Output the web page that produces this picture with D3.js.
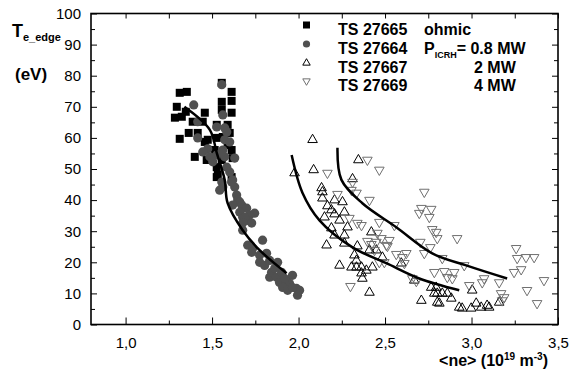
<!DOCTYPE html>
<html>
<head>
<meta charset="utf-8">
<script src="https://cdn.jsdelivr.net/npm/d3@7"></script>
<style>
  body { margin: 0; background: #fff; }
  svg { display: block; font-family: "Liberation Sans", Arial, Helvetica, sans-serif; }
</style>
</head>
<body>
<div id="chart"></div>
<script>
// TS 27665 ohmic (squares)
const ohmicNe = [1.313, 1.354, 1.556, 1.613, 1.556, 1.613, 1.296, 1.285, 1.325, 1.458, 1.556, 1.613,
  1.388, 1.365, 1.313, 1.417, 1.458, 1.527, 1.590, 1.602, 1.527, 1.562, 1.400, 1.469, 1.515, 1.613,
  1.619, 1.527, 1.613, 1.446, 1.475, 1.498, 1.527, 1.533, 1.348, 1.590, 1.556];
const ohmicTe = [74.5, 74.8, 77.7, 74.8, 71.6, 71.9, 70.0, 66.5, 66.8, 68.1, 69.0, 68.1,
  65.2, 61.6, 59.7, 61.6, 58.7, 64.2, 64.2, 61.6, 60.0, 60.3, 53.9, 52.9, 56.1, 56.1,
  53.5, 47.4, 47.4, 65.2, 59.4, 52.9, 50.6, 48.1, 68.4, 57.7, 52.9];

// TS 27664 P_ICRH = 0.8 MW (circles)
const lowNe = [1.556, 1.394, 1.562, 1.417, 1.573, 1.527, 1.417, 1.585, 1.573, 1.602, 1.475, 1.446,
  1.527, 1.562, 1.573, 1.631, 1.585, 1.602, 1.619, 1.631, 1.562, 1.642, 1.487, 1.504, 1.556, 1.613,
  1.671, 1.648, 1.700, 1.677, 1.706, 1.556, 1.544, 1.660, 1.619, 1.746, 1.717, 1.660, 1.688, 1.729,
  1.677, 1.677, 1.792, 1.706, 1.735, 1.729, 1.775, 1.815, 1.775, 1.804, 1.833, 1.879, 1.833, 1.844,
  1.873, 1.902, 1.931, 1.965, 1.948, 1.890, 1.908, 1.988, 2.006, 1.994, 1.862, 1.919, 1.937, 1.965];
const lowTe = [77.1, 70.6, 67.4, 65.2, 63.2, 63.5, 60.0, 61.9, 59.4, 58.7, 56.5, 55.5,
  54.5, 56.1, 53.9, 53.5, 50.6, 49.0, 46.5, 44.2, 44.2, 41.6, 53.9, 52.3, 55.5, 45.8,
  38.4, 40.0, 37.4, 34.5, 33.5, 45.8, 43.2, 39.4, 38.4, 35.8, 35.2, 36.1, 34.5, 32.6,
  32.6, 30.3, 27.1, 25.5, 24.5, 23.2, 22.3, 22.9, 20.0, 19.0, 20.6, 20.0, 15.2, 16.8,
  15.2, 16.8, 14.2, 15.8, 13.2, 13.5, 11.9, 11.6, 11.0, 9.4, 18.1, 14.8, 11.0, 11.9];

// TS 27667 2 MW (up triangles)
const midNe = [2.081, 1.977, 2.087, 2.346, 2.312, 2.133, 2.138, 2.138, 2.208, 2.254, 2.167, 2.190,
  2.265, 2.150, 2.208, 2.283, 2.190, 2.208, 2.265, 2.421, 2.162, 2.265, 2.340, 2.410, 2.450, 2.335,
  2.306, 2.335, 2.364, 2.392, 2.427, 2.237, 2.364, 2.369, 2.410, 2.710, 2.485, 2.594, 2.669, 2.767,
  2.785, 2.802, 2.831, 2.860, 2.802, 2.814, 2.883, 2.929, 2.946, 2.998, 3.027, 3.056, 3.090, 3.102,
  3.004, 3.160, 2.796, 2.237, 2.323];
const midTe = [59.4, 48.7, 49.7, 52.9, 46.8, 43.9, 42.6, 40.6, 40.0, 39.4, 38.1, 36.8,
  36.1, 34.5, 35.5, 31.3, 31.0, 28.7, 28.7, 29.7, 25.5, 26.1, 25.2, 23.9, 23.9, 20.6,
  18.4, 18.4, 18.4, 17.4, 18.4, 19.0, 16.5, 14.8, 10.3, 7.7, 21.6, 19.7, 14.2, 11.9,
  10.0, 10.0, 10.0, 10.0, 7.1, 6.8, 8.4, 5.5, 5.2, 5.2, 6.8, 5.5, 6.1, 5.5,
  11.0, 7.1, 11.9, 33.5, 22.3];

// TS 27669 4 MW (down triangles)
const highNe = [2.398, 2.467, 2.167, 2.312, 2.306, 2.335, 2.225, 2.410, 2.294, 2.340, 2.364, 2.467,
  2.554, 2.727, 2.710, 2.767, 2.698, 2.756, 2.773, 2.796, 2.802, 2.456, 2.479, 2.398, 2.421, 2.525,
  2.514, 2.439, 2.565, 2.623, 2.600, 2.496, 2.467, 2.704, 2.762, 2.727, 2.612, 2.917, 2.831, 2.958,
  2.785, 2.842, 2.900, 2.860, 2.889, 2.658, 2.681, 2.987, 3.073, 3.062, 3.160, 3.258, 3.264, 3.315,
  3.362, 3.246, 3.287, 3.419, 3.321, 3.171, 3.189, 3.177, 3.379, 2.300, 2.450, 2.508];
const highTe = [52.9, 49.7, 48.7, 45.8, 43.2, 42.3, 41.9, 40.0, 34.2, 32.6, 31.9, 32.9,
  31.9, 42.6, 37.4, 37.1, 35.8, 34.5, 30.6, 29.7, 27.7, 29.4, 27.7, 26.8, 25.8, 27.1,
  25.2, 23.9, 22.6, 22.9, 21.6, 20.0, 20.0, 26.5, 24.8, 22.9, 19.7, 27.7, 21.3, 19.0,
  16.8, 17.1, 16.8, 15.2, 14.8, 14.8, 13.9, 12.6, 14.8, 13.5, 13.5, 24.5, 21.3, 21.6,
  21.6, 16.8, 17.7, 14.2, 11.0, 10.0, 8.7, 7.7, 6.8, 12.3, 26.5, 25.5];

// fitted curves
const fitLowNe = [1.34, 1.487, 1.527, 1.573, 1.590, 1.677, 1.775, 1.931];
const fitLowTe = [70.0, 62.6, 55.2, 46.5, 39.0, 30.3, 23.9, 16.5];
const fitMidNe = [1.96, 2.023, 2.121, 2.312, 2.508, 2.698, 2.929];
const fitMidTe = [54.5, 42.3, 33.5, 24.8, 19.7, 14.8, 11.0];
const fitHighNe = [2.225, 2.248, 2.369, 2.565, 2.773, 2.969, 3.206];
const fitHighTe = [56.8, 46.5, 39.0, 31.3, 22.9, 19.0, 14.8];

// axis ticks
const xMajor = [1.0, 1.5, 2.0, 2.5, 3.0, 3.5];
const xMinor = [1.25, 1.75, 2.25, 2.75, 3.25];
const yMajor = [0, 10, 20, 30, 40, 50, 60, 70, 80, 90, 100];
const yMinor = [5, 15, 25, 35, 45, 55, 65, 75, 85, 95];

// legend
const legendShots = ["TS 27665", "TS 27664", "TS 27667", "TS 27669"];
const legendPower = ["ohmic", "= 0.8 MW", "2 MW", "4 MW"];

const width = 585;
const height = 376;

const svg = d3.select("#chart")
  .append("svg")
  .attr("width", width)
  .attr("height", height);

const x = d3.scaleLinear().domain([0.8, 3.5]).range([91, 558]);
const y = d3.scaleLinear().domain([0, 100]).range([324.5, 13.5]);

const zip = (a, b) => a.map((v, i) => [v, b[i]]);

// axes, ticks pointing inward
function styleAxis(g) {
  g.select(".domain").remove();
  g.selectAll(".tick line").attr("stroke", "#000").attr("stroke-width", 1);
  g.selectAll(".tick text").attr("fill", "#000").style("font-size", "15px");
}

const fmt = d => d3.format(".1f")(d).replace(".", ",");

svg.append("g")
  .attr("transform", "translate(0," + y(0) + ")")
  .call(d3.axisBottom(x).tickValues(xMajor).tickSize(-7).tickPadding(13).tickFormat(fmt))
  .call(styleAxis);
svg.append("g")
  .attr("transform", "translate(0," + y(0) + ")")
  .call(d3.axisBottom(x).tickValues(xMinor).tickSize(-4).tickFormat(""))
  .call(styleAxis);
svg.append("g")
  .attr("transform", "translate(0," + y(100) + ")")
  .call(d3.axisTop(x).tickValues(xMajor.concat(xMinor)).tickSize(-5).tickFormat(""))
  .call(styleAxis);

svg.append("g")
  .attr("transform", "translate(" + x(0.8) + ",0)")
  .call(d3.axisLeft(y).tickValues(yMajor).tickSize(-6).tickPadding(10))
  .call(styleAxis);
svg.append("g")
  .attr("transform", "translate(" + x(0.8) + ",0)")
  .call(d3.axisLeft(y).tickValues(yMinor).tickSize(-4).tickFormat(""))
  .call(styleAxis);
svg.append("g")
  .attr("transform", "translate(" + x(3.5) + ",0)")
  .call(d3.axisRight(y).tickValues(yMajor).tickSize(-6).tickFormat(""))
  .call(styleAxis);
svg.append("g")
  .attr("transform", "translate(" + x(3.5) + ",0)")
  .call(d3.axisRight(y).tickValues(yMinor).tickSize(-4).tickFormat(""))
  .call(styleAxis);

// frame
svg.append("rect")
  .attr("x", x(0.8))
  .attr("y", y(100))
  .attr("width", x(3.5) - x(0.8))
  .attr("height", y(0) - y(100))
  .attr("fill", "none")
  .attr("stroke", "#000")
  .attr("stroke-width", 1.6);

// data points
svg.append("g")
  .selectAll("rect")
  .data(zip(ohmicNe, ohmicTe))
  .enter()
  .append("rect")
  .attr("x", d => x(d[0]) - 4)
  .attr("y", d => y(d[1]) - 4)
  .attr("width", 8)
  .attr("height", 8)
  .attr("fill", "#000");

svg.append("g")
  .selectAll("circle")
  .data(zip(lowNe, lowTe))
  .enter()
  .append("circle")
  .attr("cx", d => x(d[0]))
  .attr("cy", d => y(d[1]))
  .attr("r", 4.6)
  .attr("fill", "#505050");

const tri = d3.symbol().type(d3.symbolTriangle).size(40);

svg.append("g")
  .selectAll("path")
  .data(zip(midNe, midTe))
  .enter()
  .append("path")
  .attr("d", tri)
  .attr("transform", d => "translate(" + x(d[0]) + "," + y(d[1]) + ")")
  .attr("fill", "none")
  .attr("stroke", "#000")
  .attr("stroke-width", 1);

svg.append("g")
  .selectAll("path")
  .data(zip(highNe, highTe))
  .enter()
  .append("path")
  .attr("d", tri)
  .attr("transform", d => "translate(" + x(d[0]) + "," + y(d[1]) + ") rotate(180)")
  .attr("fill", "none")
  .attr("stroke", "#707070")
  .attr("stroke-width", 1);

// fit lines
const line = d3.line()
  .x(d => x(d[0]))
  .y(d => y(d[1]))
  .curve(d3.curveCatmullRom.alpha(0.5));

[zip(fitLowNe, fitLowTe), zip(fitMidNe, fitMidTe), zip(fitHighNe, fitHighTe)].forEach(pts => {
  svg.append("path")
    .attr("d", line(pts))
    .attr("fill", "none")
    .attr("stroke", "#000")
    .attr("stroke-width", 2.5);
});

// y label
const yLab = svg.append("text")
  .attr("x", 12)
  .attr("y", 37)
  .style("font-weight", "bold")
  .style("font-size", "18px");
yLab.append("tspan").text("T");
yLab.append("tspan").attr("dy", 4).style("font-size", "11px").text("e_edge");

svg.append("text")
  .attr("x", 15)
  .attr("y", 80)
  .style("font-weight", "bold")
  .style("font-size", "17px")
  .text("(eV)");

// x label
const xLab = svg.append("text")
  .attr("x", 548)
  .attr("y", 366)
  .attr("text-anchor", "end")
  .style("font-weight", "bold")
  .style("font-size", "16px");
xLab.append("tspan").text("<ne> (10");
xLab.append("tspan").attr("dy", -6).style("font-size", "10px").text("19");
xLab.append("tspan").attr("dy", 6).text(" m");
xLab.append("tspan").attr("dy", -6).style("font-size", "10px").text("-3");
xLab.append("tspan").attr("dy", 6).text(")");

// legend
const legendBase = [35, 54, 73, 91];
const lg = svg.append("g");

lg.append("rect").attr("x", 303).attr("y", legendBase[0] - 13.5).attr("width", 7).attr("height", 7).attr("fill", "#000");
lg.append("circle").attr("cx", 306.5).attr("cy", legendBase[1] - 10).attr("r", 3.6).attr("fill", "#505050");
lg.append("path").attr("d", d3.symbol().type(d3.symbolTriangle).size(24))
  .attr("transform", "translate(306.5," + (legendBase[2] - 10) + ")")
  .attr("fill", "none").attr("stroke", "#000");
lg.append("path").attr("d", d3.symbol().type(d3.symbolTriangle).size(24))
  .attr("transform", "translate(306.5," + (legendBase[3] - 10) + ") rotate(180)")
  .attr("fill", "none").attr("stroke", "#707070");

legendShots.forEach((s, i) => {
  lg.append("text")
    .attr("x", 338)
    .attr("y", legendBase[i])
    .style("font-weight", "bold")
    .style("font-size", "16px")
    .text(s);
});

lg.append("text").attr("x", 424).attr("y", legendBase[0])
  .style("font-weight", "bold").style("font-size", "16px").text(legendPower[0]);
const pText = lg.append("text").attr("x", 424).attr("y", legendBase[1])
  .style("font-weight", "bold").style("font-size", "16px");
pText.append("tspan").text("P");
pText.append("tspan").attr("dy", 4).style("font-size", "9px").text("ICRH");
pText.append("tspan").attr("dy", -4).text(legendPower[1]);
lg.append("text").attr("x", 474).attr("y", legendBase[2])
  .style("font-weight", "bold").style("font-size", "16px").text(legendPower[2]);
lg.append("text").attr("x", 474).attr("y", legendBase[3])
  .style("font-weight", "bold").style("font-size", "16px").text(legendPower[3]);
</script>
</body>
</html>
